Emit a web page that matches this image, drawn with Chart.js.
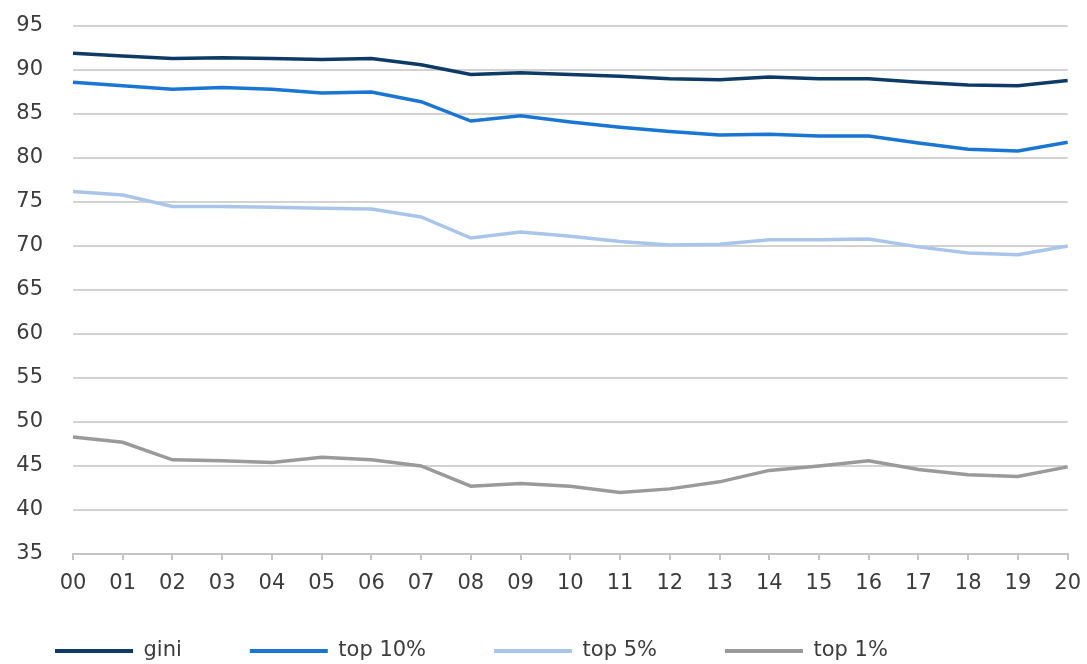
<!DOCTYPE html>
<html><head><meta charset="utf-8">
<script src="https://cdn.jsdelivr.net/npm/chart.js@4/dist/chart.umd.min.js"></script>
<style>html,body{margin:0;padding:0;background:#fff}#wrap{width:1087px;height:664px;position:relative}</style>
</head><body><div id="wrap"><canvas id="c"></canvas></div>
<script>
const years = ['00','01','02','03','04','05','06','07','08','09','10','11','12','13','14','15','16','17','18','19','20'];
const gini  = [91.9,91.6,91.3,91.4,91.3,91.2,91.3,90.6,89.5,89.7,89.5,89.3,89.0,88.9,89.2,89.0,89.0,88.6,88.3,88.2,88.8];
const top10 = [88.6,88.2,87.8,88.0,87.8,87.4,87.5,86.4,84.2,84.8,84.1,83.5,83.0,82.6,82.7,82.5,82.5,81.7,81.0,80.8,81.8];
const top5  = [76.2,75.8,74.5,74.5,74.4,74.3,74.2,73.3,70.9,71.6,71.1,70.5,70.1,70.2,70.7,70.7,70.8,69.9,69.2,69.0,70.0];
const top1  = [48.3,47.7,45.7,45.6,45.4,46.0,45.7,45.0,42.7,43.0,42.7,42.0,42.4,43.2,44.5,45.0,45.6,44.6,44.0,43.8,44.9];
const seriesNames = ['gini','top 10%','top 5%','top 1%'];
const seriesColors = ['#0d3b66','#1a76d2','#a9c6ea','#9a9a9a'];
const yTicks = {min:35, max:95, step:5};

const FONT = {family:'"DejaVu Sans", sans-serif', size:21};
const XFONT = {family:'"DejaVu Sans", sans-serif', size:21, lineHeight:1.65};
const TEXT = '#3c3c3c';
const seriesData = [gini, top10, top5, top1];
const LEG_PAD = 68;

const legendPlace = {
  id:'legendPlace',
  afterLayout(chart){
    const l = chart.legend; if (!l) return;
    l.top = 651 - LEG_PAD - FONT.size/2;
    l.bottom = chart.height;
  }
};

new Chart(document.getElementById('c'), {
  type:'line',
  data:{
    labels: years,
    datasets: seriesData.map((d,i)=>({
      label: seriesNames[i], data: d, borderColor: seriesColors[i], backgroundColor: seriesColors[i],
      borderWidth: 3.5, pointRadius: 0, tension: 0, fill:false
    }))
  },
  plugins:[legendPlace],
  options:{
    responsive:true, maintainAspectRatio:false, animation:false,
    layout:{padding:{left:-13, right:19, top:26, bottom:0}},
    plugins:{
      tooltip:{enabled:false},
      legend:{
        position:'bottom', align:'start', maxHeight:60,
        labels:{
          font:FONT, color:TEXT, boxWidth:78, boxHeight:4, padding:LEG_PAD,
          generateLabels:(chart)=>chart.data.datasets.map((ds,i)=>({
            text: ds.label, fillStyle: ds.borderColor, strokeStyle: ds.borderColor,
            lineWidth:0, hidden:false, datasetIndex:i, fontColor: TEXT
          }))
        }
      }
    },
    scales:{
      x:{
        offset:false,
        grid:{drawOnChartArea:false, drawTicks:true, tickLength:6, color:'#c4c4c4', lineWidth:2},
        border:{display:true, color:'#c4c4c4', width:2},
        ticks:{font:XFONT, color:TEXT, padding:6, maxRotation:0, autoSkip:false},
        afterFit:(s)=>{ s.height = 50; }
      },
      y:{
        min:yTicks.min, max:yTicks.max,
        grid:{color:'#d2d2d2', lineWidth:2, drawTicks:true, tickLength:26, tickColor:'rgba(0,0,0,0)'},
        border:{display:false},
        ticks:{stepSize:yTicks.step, font:FONT, color:TEXT, padding:4},
        afterFit:(s)=>{ s.width = 86; }
      }
    }
  }
});
</script></body></html>
